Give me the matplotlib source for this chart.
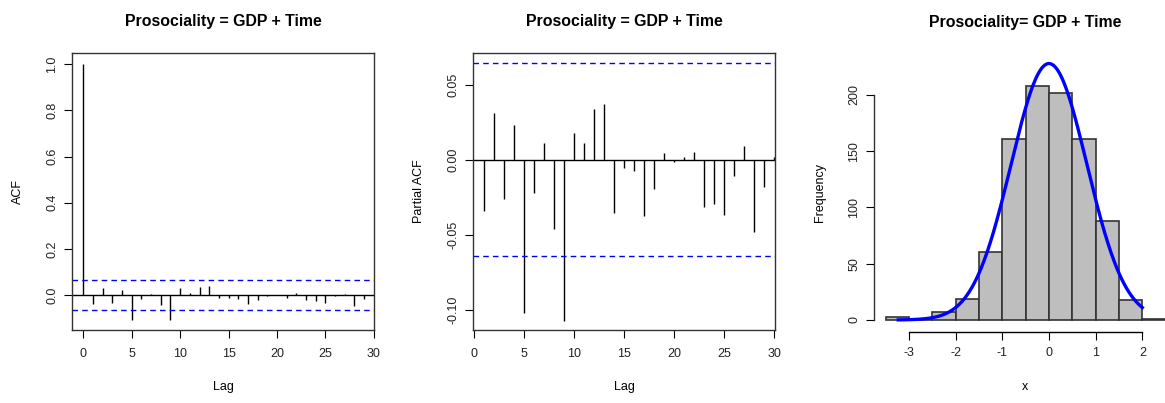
import matplotlib
matplotlib.use('Agg')
import matplotlib.pyplot as plt
import numpy as np

plt.rcParams.update({
    'font.family': ['Liberation Sans', 'DejaVu Sans'],
    'font.size': 9,
    'text.color': '#222222',
    'xtick.labelcolor': '#222222',
    'ytick.labelcolor': '#222222',
    'axes.linewidth': 1.0,
    'axes.unicode_minus': False,
    'xtick.direction': 'out',
    'ytick.direction': 'out',
    'xtick.major.size': 6,
    'ytick.major.size': 6,
    'xtick.major.pad': 7,
    'ytick.major.pad': 4,
})

title = 'Prosociality = GDP + Time'
title_hist = 'Prosociality= GDP + Time'

# ACF (lags 0..30)
acf_lags = list(range(0, 31))
acf_vals = [1.0, -0.037, 0.032, -0.032, 0.025, -0.108, -0.017, 0.004, -0.043, -0.108,
            0.032, 0.010, 0.036, 0.039, -0.013, -0.010, -0.016, -0.036, -0.022, -0.003,
            0.000, -0.010, 0.009, -0.022, -0.026, -0.032, -0.002, 0.007, -0.046, -0.016,
            0.002]

# PACF (lags 1..30)
pacf_lags = list(range(1, 31))
pacf_vals = [-0.0338, 0.0311, -0.0262, 0.0231, -0.1022, -0.0222, 0.0111, -0.0458, -0.1070,
             0.0182, 0.0111, 0.0338, 0.0373, -0.0356, -0.0053, -0.0073, -0.0371, -0.0193,
             0.0049, -0.0016, 0.0020, 0.0056, -0.0316, -0.0291, -0.0369, -0.0107, 0.0096,
             -0.0480, -0.0178, 0.0020]

n_obs = 929
conf = 1.96 / np.sqrt(n_obs)

# histogram of residuals
bin_edges = [-3.5, -3.0, -2.5, -2.0, -1.5, -1.0, -0.5, 0.0, 0.5, 1.0, 1.5, 2.0, 2.5]
counts = [3, 1, 7, 19, 60, 161, 208, 202, 161, 88, 18, 1]
fit_mean = 0.0
fit_sd = 0.813
curve_from, curve_to = -3.23, 2.0

W, H = 1165, 403
fig = plt.figure(figsize=(W / 100, H / 100), dpi=100)


def px_axes(l, t, r, b):
    return fig.add_axes([l / W, 1 - b / H, (r - l) / W, (b - t) / H])


box_col = '#333333'
title_size = 11.4

# --- panel 1: ACF ---
ax1 = px_axes(72, 53, 374, 330)
ax1.vlines(acf_lags, 0, acf_vals, color='black', lw=1.0)
ax1.axhline(0, color='black', lw=1.0)
for c in (conf, -conf):
    ax1.axhline(c, color='blue', lw=1.0, ls=(0, (4, 3)))
ax1.set_xlim(-1.17, 30.02)
ax1.set_ylim(-0.150, 1.0476)
ax1.set_xticks([0, 5, 10, 15, 20, 25, 30])
ax1.set_yticks([0.0, 0.2, 0.4, 0.6, 0.8, 1.0])
ax1.set_yticklabels(['0.0', '0.2', '0.4', '0.6', '0.8', '1.0'], rotation=90, va='center')
ax1.set_xlabel('Lag')
ax1.set_ylabel('ACF')
ax1.xaxis.set_label_coords(0.5, -(387 - 330) / 277)
ax1.xaxis.label.set_va('center')
ax1.yaxis.set_label_coords((18 - 72) / 302, 0.5)
ax1.yaxis.label.set_va('center')
ax1.set_title(title, fontweight='bold', fontsize=title_size, pad=19.5, color='black')

# --- panel 2: PACF ---
ax2 = px_axes(473, 53, 775, 330)
ax2.vlines(pacf_lags, 0, pacf_vals, color='black', lw=1.0)
ax2.axhline(0, color='black', lw=1.0)
for c in (conf, -conf):
    ax2.axhline(c, color='blue', lw=1.0, ls=(0, (4, 3)))
ax2.set_xlim(-0.1, 30.1)
ax2.set_ylim(-0.1133, 0.0713)
ax2.set_xticks([0, 5, 10, 15, 20, 25, 30])
ax2.set_yticks([-0.10, -0.05, 0.0, 0.05])
ax2.set_yticklabels(['-0.10', '-0.05', '0.00', '0.05'], rotation=90, va='center')
ax2.set_xlabel('Lag')
ax2.set_ylabel('Partial ACF')
ax2.xaxis.set_label_coords(0.5, -(387 - 330) / 277)
ax2.xaxis.label.set_va('center')
ax2.yaxis.set_label_coords((419 - 473) / 302, 0.5)
ax2.yaxis.label.set_va('center')
ax2.set_title(title, fontweight='bold', fontsize=title_size, pad=19.5, color='black')

for ax in (ax1, ax2):
    for s in ax.spines.values():
        s.set_color(box_col)

# --- panel 3: histogram with normal curve ---
ax3 = px_axes(874, 53, 1165, 332)
lefts = bin_edges[:-1]
widths = np.diff(bin_edges)
ax3.bar(lefts, counts, width=widths, align='edge', color='#BEBEBE',
        edgecolor='#333333', linewidth=1.2)
xs = np.linspace(curve_from, curve_to, 300)
binw = widths[0]
ys = n_obs * binw * np.exp(-0.5 * ((xs - fit_mean) / fit_sd) ** 2) / (fit_sd * np.sqrt(2 * np.pi))
ax3.plot(xs, ys, color='blue', lw=2.4)
ax3.set_xlim(-3.75, 2.486)
ax3.set_ylim(-10.7, 237.3)
for side in ('top', 'right'):
    ax3.spines[side].set_visible(False)
ax3.spines['left'].set_bounds(0, 200)
ax3.spines['bottom'].set_bounds(-3, 2)
ax3.spines['left'].set_color(box_col)
ax3.spines['bottom'].set_color('black')
ax3.set_xticks([-3, -2, -1, 0, 1, 2])
ax3.set_yticks([0, 50, 100, 150, 200])
ax3.set_yticklabels(['0', '50', '100', '150', '200'], rotation=90, va='center')
ax3.tick_params(axis='x', pad=5)
ax3.set_xlabel('x')
ax3.set_ylabel('Frequency')
ax3.xaxis.set_label_coords((1025 - 874) / (1165 - 874), -(387 - 332) / 279)
ax3.xaxis.label.set_va('center')
ax3.yaxis.set_label_coords((820 - 874) / 291, 0.5)
ax3.yaxis.label.set_va('center')
fig.text(1025 / W, 1 - 22 / H, title_hist, fontweight='bold', fontsize=title_size,
         ha='center', va='center', color='black')

fig.savefig('out.png', dpi=100, facecolor='white')
